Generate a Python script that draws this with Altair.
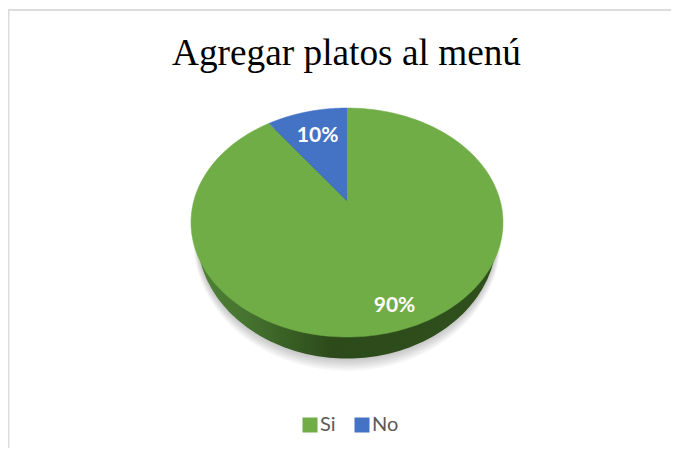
import numpy as np
import pandas as pd
import altair as alt

categories = ["Si", "No"]
values = [90, 10]
labels = ["90%", "10%"]
colors = ["#70ad47", "#4472c4"]
title_text = "Agregar platos al menú"

W, H = 663, 440
RX, RY = 156.0, 114.5      # px per unit of the tilted disc
CX, CY = 339.0, 214.5      # disc centre inside the view
K = 0.19                   # perspective of the tilted disc
C = np.sqrt(1 - K ** 2)

xs = alt.Scale(domain=[-CX / RX, (W - CX) / RX], range=[0, W])
ys = alt.Scale(domain=[-(H - CY) / RY, CY / RY], range=[H, 0])
X = alt.X("x:Q", scale=xs, axis=None)
Y = alt.Y("y:Q", scale=ys, axis=None)


def project(r, th):
    d = 1 + K * r * np.cos(th)
    return C * r * np.sin(th) / d, (r * np.cos(th) + K) / d


def ellipse(dy=0.0, sx=1.0, sy=1.0, n=240):
    t = np.linspace(0, 2 * np.pi, n)
    return pd.DataFrame({"x": sx * np.sin(t), "y": dy + sy * np.cos(t), "i": np.arange(n)})


def blob(df, **kw):
    return alt.Chart(df).mark_line(**kw).encode(x=X, y=Y, order="i:Q")


# shadow below the disc
shadow = [
    blob(ellipse(-0.122 - 0.006 * j, 0.96 + 0.004 * j, 1.066 + 0.012 * j), fill="#000000", fillOpacity=0.035, strokeOpacity=0)
    for j in range(6, 0, -1)
]

# side wall
side = blob(
    ellipse(-0.122, 0.96, 1.066),
    fill=alt.LinearGradient(
        gradient="linear", x1=0, x2=1, y1=0, y2=0,
        stops=[
            alt.GradientStop(offset=0, color="#4f8236"),
            alt.GradientStop(offset=0.15, color="#477530"),
            alt.GradientStop(offset=0.45, color="#2c4a1a"),
            alt.GradientStop(offset=1, color="#2f501c"),
        ],
    ),
    strokeOpacity=0,
)

# slices, clockwise from the top
total = sum(values)
rows = []
start = 0.0
for cat, val in zip(categories, values):
    end = start + val / total * 2 * np.pi
    th = np.linspace(start, end, 200)
    px, py = project(1.0, th)
    rows.append(pd.DataFrame({
        "x": np.r_[project(0.0, 0.0)[0], px],
        "y": np.r_[project(0.0, 0.0)[1], py],
        "i": np.arange(201),
        "cat": cat,
    }))
    start = end
slices = pd.concat(rows)

pie = alt.Chart(slices).mark_line(strokeWidth=0.5).encode(
    x=X, y=Y, order="i:Q",
    fill=alt.Fill(
        "cat:N",
        scale=alt.Scale(domain=categories, range=colors),
        legend=alt.Legend(
            title=None, orient="none", legendX=292, legendY=407,
            direction="horizontal", symbolType="square", symbolSize=225,
            symbolStrokeWidth=0, labelFont="Lato", labelFontSize=20,
            labelColor="#595959", columnPadding=16, labelOffset=0,
        ),
    ),
    stroke=alt.Stroke("cat:N", scale=alt.Scale(domain=categories, range=colors), legend=None),
)

# value labels
start = 0.0
lab = []
for cat, val, txt, r in zip(categories, values, labels, [0.85, 0.70]):
    mid = start + val / total * np.pi
    lx, ly = project(r, mid)
    lab.append({"x": lx, "y": ly, "t": txt})
    start += val / total * 2 * np.pi
text = alt.Chart(pd.DataFrame(lab)).mark_text(
    font="Lato", fontWeight="bold", fontSize=21, color="white"
).encode(x=X, y=Y, text="t:N")

# chart frame
frame_left = alt.Chart(pd.DataFrame({"a": [0]})).mark_rule(color="#dcdcdc", strokeWidth=3).encode(
    x=alt.value(0), y=alt.value(1), y2=alt.value(H)
)
frame_top = alt.Chart(pd.DataFrame({"a": [0]})).mark_rule(color="#dcdcdc", strokeWidth=2).encode(
    x=alt.value(0), x2=alt.value(W), y=alt.value(2)
)

chart = alt.layer(frame_left, frame_top, *shadow, side, pie, text).properties(
    width=W, height=H,
    autosize=alt.AutoSizeParams(type="none"),
    padding=0,
    background="white",
    title=alt.TitleParams(
        title_text, font="Liberation Serif", fontSize=37.3, fontWeight="normal",
        color="#000000", anchor="middle", orient="top", dx=7, dy=99, baseline="alphabetic",
    ),
).resolve_scale(fill="independent", stroke="independent").configure_view(stroke=None)

chart.save("out.html", embed_options={"renderer": "svg", "actions": False})
